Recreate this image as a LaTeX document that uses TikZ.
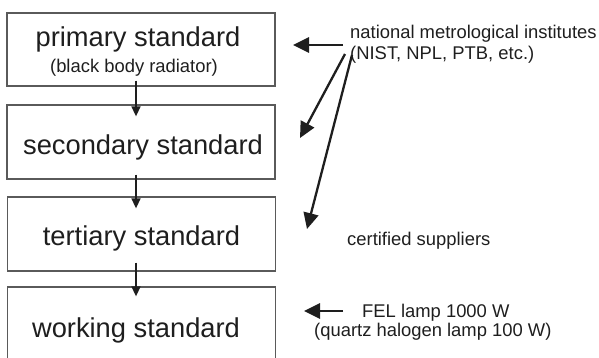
\documentclass[tikz,border=0pt]{standalone}
\usepackage{fontspec}
\setmainfont{Liberation Sans}
\usetikzlibrary{arrows.meta,calc}
\definecolor{ink}{HTML}{1E1E1E}
\definecolor{frame}{HTML}{5A5A5A}
\tikzset{
  x=1pt, y=-1pt,
  stdbox/.style={draw=frame, line width=1.3pt, minimum width=268pt, minimum height=74pt, inner sep=0pt},
  bigtxt/.style={inner sep=0pt, text=ink, font=\fontsize{27.3}{30}\selectfont, anchor=base},
  smalltxt/.style={inner sep=0pt, text=ink, font=\fontsize{18.4}{21}\selectfont},
  downarr/.style={draw=ink, line width=1.5pt, -{Triangle[length=10pt,width=9pt]}},
  fatarr/.style={draw=ink, line width=2.8pt, -{Triangle[length=16pt,width=15pt]}, shorten <=0pt},
}
\begin{document}
\begin{tikzpicture}
\useasboundingbox (0,0) rectangle (599,357);
\begin{scope}
\clip (0,0) rectangle (599,357);
% the four levels of the calibration chain
\node[stdbox, minimum height=73pt] (box1) at (141,49.5) {};
\node[stdbox] (box2) at (141,142) {};
\node[stdbox] (box3) at (141.5,234) {};
\node[stdbox] (box4) at (141.5,324) {};
\end{scope}

\node[bigtxt] (t1) at (138,46) {primary standard};
\node[smalltxt, anchor=base] (t1b) at (134,72) {(black body radiator)};
\node[bigtxt] (t2) at (143,154) {secondary standard};
\node[bigtxt] (t3) at (141.5,245) {tertiary standard};
\node[bigtxt] (t4) at (136,337) {working standard};

% transfer arrows between levels
\draw[downarr] ($(box1.south)+(-5,-6)$) -- ($(box2.north)+(-5,12)$);
\draw[downarr] ($(box2.south)+(-5,-5)$) -- ($(box3.north)+(-5.5,12)$);
\draw[downarr] ($(box3.south)+(-5.5,-9)$) -- ($(box4.north)+(-5.5,10)$);

% who provides each level
\node[smalltxt, anchor=base west] (nmi) at (350,38) {national metrological institutes};
\node[smalltxt, anchor=base west] (nmi2) at (350,59) {(NIST, NPL, PTB, etc.)};
\node[smalltxt, anchor=base west] (sup) at (347,245) {certified suppliers};
\node[smalltxt, anchor=base west] (fel) at (362,317) {FEL lamp 1000 W};
\node[smalltxt, anchor=base west] (qh) at (314,336) {(quartz halogen lamp 100 W)};

\coordinate (a1s) at (343,45);
\coordinate (a1e) at (293,45);
\coordinate (a2s) at (345,54);
\coordinate (a2e) at (300,138);
\coordinate (a3s) at (352,55);
\coordinate (a3e) at (307,229);
\coordinate (a4s) at (343,311);
\coordinate (a4e) at (304,311);

\draw[fatarr] (a1s) -- (a1e);
\draw[fatarr, line width=2.3pt] (a2s) -- (a2e);
\draw[fatarr, line width=2.3pt] (a3s) -- (a3e);
\draw[fatarr] (a4s) -- (a4e);
\end{tikzpicture}
\end{document}
